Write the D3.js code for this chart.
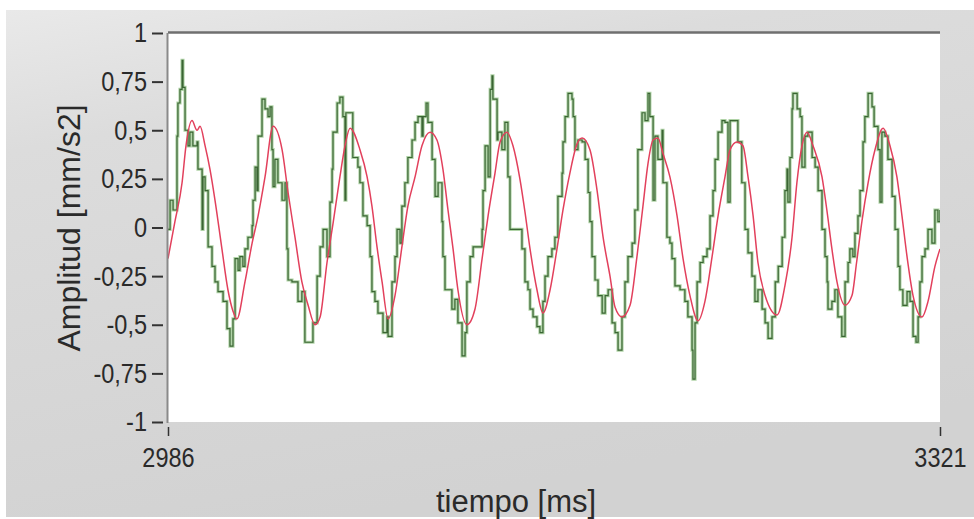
<!DOCTYPE html>
<html>
<head>
<meta charset="utf-8">
<script src="https://cdn.jsdelivr.net/npm/d3@7"></script>
<style>
  html, body { margin: 0; padding: 0; background: #ffffff; }
  svg { display: block; }
  text { font-family: "Liberation Sans", Arial, sans-serif; fill: #2a2a2a; }
</style>
</head>
<body>
<div id="chart"></div>
<script>
// ---- data ----
const xTickValues = [2986, 3321];
const yTickValues = [-1, -0.75, -0.5, -0.25, 0, 0.25, 0.5, 0.75, 1];
const yTickLabels = ["-1", "-0,75", "-0,5", "-0,25", "0", "0,25", "0,5", "0,75", "1"];
const xTitle = "tiempo [ms]";
const yTitle = "Amplitud [mm/s2]";

// red (filtered) signal: time [ms]
const redTime = [
  2986.0, 2989.0, 2992.1, 2993.8, 2996.4, 2998.6, 2999.9, 3002.1, 3004.2, 3006.4,
  3009.4, 3012.0, 3014.2, 3015.9, 3019.4, 3022.5, 3025.1, 3028.1, 3031.6, 3035.5,
  3038.1, 3041.1, 3044.1, 3046.8, 3049.8, 3052.0, 3055.0, 3057.6, 3060.6, 3062.8,
  3065.0, 3069.3, 3072.4, 3074.5, 3076.7, 3078.9, 3081.5, 3084.5, 3087.5, 3090.1,
  3093.2, 3096.2, 3099.7, 3102.7, 3105.3, 3107.5, 3109.7, 3111.8, 3115.7, 3119.2,
  3122.3, 3124.9, 3127.9, 3130.1, 3133.1, 3135.7, 3138.7, 3140.9, 3143.1, 3146.1,
  3148.7, 3151.8, 3154.8, 3157.4, 3160.4, 3163.5, 3165.7, 3169.1, 3172.2, 3174.8,
  3177.8, 3180.0, 3183.0, 3186.5, 3189.5, 3192.1, 3194.3, 3196.5, 3198.6, 3200.8,
  3203.8, 3206.9, 3209.5, 3212.5, 3216.0, 3219.0, 3222.1, 3224.7, 3227.7, 3229.9,
  3232.9, 3235.5, 3237.7, 3239.9, 3242.0, 3245.1, 3250.3, 3253.7, 3256.8, 3258.9,
  3261.1, 3263.3, 3265.9, 3269.8, 3271.9, 3274.1, 3276.3, 3279.8, 3282.8, 3284.8,
  3287.1, 3289.8, 3292.8, 3296.3, 3299.3, 3302.3, 3304.5, 3306.7, 3309.3, 3313.2,
  3315.8, 3318.8, 3321.0
];
// red signal amplitude [mm/s2]
const redAmp = [
  -0.16, 0.03, 0.23, 0.42, 0.55, 0.50, 0.52, 0.42, 0.30, 0.14,
  -0.11, -0.32, -0.43, -0.47, -0.28, -0.08, 0.06, 0.26, 0.52, 0.40,
  0.18, -0.05, -0.28, -0.40, -0.50, -0.46, -0.18, 0.02, 0.26, 0.42,
  0.51, 0.40, 0.26, 0.11, -0.10, -0.28, -0.47, -0.35, -0.10, 0.11,
  0.26, 0.42, 0.49, 0.45, 0.30, 0.09, -0.11, -0.32, -0.50, -0.42,
  -0.16, 0.06, 0.28, 0.44, 0.49, 0.42, 0.25, 0.08, -0.11, -0.32,
  -0.44, -0.32, -0.11, 0.09, 0.28, 0.43, 0.46, 0.40, 0.19, -0.05,
  -0.25, -0.41, -0.46, -0.40, -0.15, 0.11, 0.33, 0.45, 0.46, 0.38,
  0.26, 0.06, -0.16, -0.35, -0.48, -0.38, -0.15, 0.06, 0.26, 0.40,
  0.44, 0.42, 0.26, 0.06, -0.18, -0.35, -0.45, -0.30, -0.05, 0.23,
  0.42, 0.49, 0.42, 0.26, 0.09, -0.11, -0.28, -0.40, -0.35, -0.18,
  0.03, 0.23, 0.40, 0.51, 0.42, 0.26, 0.06, -0.15, -0.35, -0.46,
  -0.38, -0.20, -0.11
];

// green (raw) signal: time [ms]
const greenTime = [
  2986.0, 2986.9, 2988.2, 2989.9, 2990.3, 2991.2, 2992.1, 2992.5, 2993.4, 2994.7,
  2995.5, 2996.8, 2998.6, 2999.0, 3000.8, 3001.2, 3002.1, 3003.4, 3005.1, 3006.4,
  3007.7, 3009.9, 3011.6, 3012.9, 3014.2, 3015.1, 3016.4, 3017.2, 3018.5, 3019.4,
  3020.7, 3022.5, 3022.9, 3023.8, 3024.6, 3025.1, 3026.8, 3028.1, 3029.4, 3030.3,
  3031.1, 3031.6, 3032.4, 3033.7, 3035.5, 3036.8, 3037.6, 3038.1, 3039.8, 3042.4,
  3044.1, 3045.4, 3048.9, 3050.7, 3052.0, 3053.3, 3055.0, 3056.3, 3057.2, 3057.6,
  3059.4, 3060.6, 3061.9, 3062.8, 3063.2, 3066.2, 3068.4, 3069.3, 3070.6, 3072.4,
  3073.7, 3074.5, 3075.8, 3077.1, 3079.3, 3081.0, 3081.5, 3083.2, 3084.5, 3085.4,
  3086.7, 3087.5, 3088.8, 3090.1, 3091.9, 3093.2, 3094.5, 3096.2, 3096.7, 3098.0,
  3098.8, 3100.6, 3101.9, 3103.2, 3104.9, 3105.3, 3106.2, 3109.2, 3110.5, 3111.8,
  3113.6, 3114.9, 3115.7, 3117.1, 3118.4, 3122.3, 3122.7, 3123.6, 3124.9, 3125.8,
  3126.6, 3127.0, 3128.8, 3129.2, 3130.9, 3132.2, 3133.5, 3134.4, 3139.6, 3140.9,
  3142.2, 3143.1, 3144.4, 3146.1, 3147.4, 3148.7, 3149.6, 3150.9, 3152.6, 3153.9,
  3155.2, 3157.0, 3157.4, 3158.3, 3159.6, 3161.3, 3161.8, 3162.6, 3163.9, 3165.7,
  3167.0, 3168.3, 3169.1, 3170.0, 3171.3, 3172.6, 3174.4, 3175.7, 3177.0, 3178.7,
  3180.0, 3181.3, 3183.0, 3184.3, 3185.6, 3187.4, 3188.6, 3189.9, 3191.7, 3193.0,
  3194.3, 3195.1, 3196.5, 3197.3, 3198.6, 3200.4, 3200.8, 3202.5, 3203.8, 3204.7,
  3206.0, 3208.2, 3210.3, 3211.6, 3213.4, 3213.8, 3214.7, 3215.6, 3216.9, 3218.2,
  3219.9, 3221.2, 3222.5, 3223.4, 3224.7, 3226.4, 3227.7, 3229.0, 3229.9, 3233.3,
  3235.0, 3236.4, 3237.7, 3239.4, 3240.7, 3242.0, 3243.8, 3245.1, 3246.4, 3248.1,
  3249.5, 3250.8, 3252.5, 3253.7, 3254.6, 3255.0, 3255.9, 3256.8, 3257.2, 3259.0,
  3260.3, 3261.1, 3262.4, 3263.7, 3265.5, 3266.8, 3268.1, 3269.8, 3271.1, 3272.0,
  3272.4, 3274.1, 3275.4, 3276.7, 3278.4, 3279.8, 3281.1, 3281.9, 3283.2, 3284.1,
  3285.4, 3286.3, 3287.6, 3288.4, 3289.8, 3291.5, 3292.4, 3294.1, 3295.0, 3295.8,
  3297.1, 3298.4, 3300.2, 3301.5, 3302.8, 3303.6, 3304.9, 3306.7, 3308.0, 3309.3,
  3310.6, 3311.5, 3312.3, 3313.2, 3314.5, 3315.8, 3317.5, 3318.8, 3320.1, 3321.0
];
// green signal amplitude [mm/s2]
const greenAmp = [
  -0.01, 0.14, 0.09, 0.47, 0.64, 0.71, 0.86, 0.72, 0.50, 0.42,
  0.49, 0.42, 0.44, 0.30, -0.01, 0.26, 0.19, -0.10, -0.20, -0.28,
  -0.33, -0.38, -0.52, -0.61, -0.47, -0.16, -0.22, -0.15, -0.20, -0.11,
  -0.05, 0.01, 0.14, 0.31, 0.19, 0.47, 0.66, 0.61, 0.57, 0.62,
  0.40, 0.21, 0.35, 0.23, 0.14, 0.23, -0.11, -0.27, -0.28, -0.38,
  -0.33, -0.59, -0.49, -0.25, -0.10, -0.01, -0.15, 0.13, 0.30, 0.49,
  0.64, 0.67, 0.57, 0.14, 0.59, 0.36, 0.31, 0.23, 0.06, 0.01,
  -0.15, -0.33, -0.38, -0.44, -0.54, -0.46, -0.56, -0.28, -0.15, -0.01,
  -0.08, 0.11, 0.23, 0.36, 0.45, 0.54, 0.57, 0.47, 0.57, 0.64,
  0.54, 0.35, 0.16, 0.23, 0.03, -0.15, -0.32, -0.42, -0.37, -0.49,
  -0.66, -0.54, -0.28, -0.15, -0.10, -0.01, 0.19, 0.42, 0.26, 0.71,
  0.78, 0.66, 0.45, 0.49, 0.40, 0.54, 0.26, -0.01, -0.11, -0.28,
  -0.32, -0.42, -0.46, -0.51, -0.54, -0.38, -0.25, -0.15, -0.11, -0.05,
  0.16, 0.28, 0.44, 0.57, 0.69, 0.66, 0.57, 0.40, 0.45, 0.44,
  0.35, 0.18, 0.03, -0.15, -0.27, -0.35, -0.44, -0.35, -0.32, -0.49,
  -0.54, -0.63, -0.46, -0.28, -0.15, -0.08, 0.09, 0.40, 0.59, 0.55,
  0.69, 0.57, 0.14, 0.47, 0.35, 0.50, 0.23, -0.05, -0.08, -0.16,
  -0.30, -0.32, -0.38, -0.46, -0.63, -0.78, -0.49, -0.28, -0.18, -0.15,
  -0.11, 0.06, 0.19, 0.35, 0.49, 0.55, 0.54, 0.13, 0.55, 0.44,
  0.23, -0.01, -0.13, -0.25, -0.38, -0.32, -0.42, -0.49, -0.57, -0.46,
  -0.28, -0.20, -0.05, 0.19, 0.30, 0.13, 0.36, 0.61, 0.69, 0.61,
  0.57, 0.31, 0.47, 0.49, 0.36, 0.31, 0.19, -0.01, -0.15, -0.28,
  -0.42, -0.38, -0.32, -0.46, -0.56, -0.28, -0.18, -0.11, -0.15, -0.03,
  0.06, 0.19, 0.44, 0.57, 0.69, 0.62, 0.52, 0.40, 0.13, 0.49,
  0.47, 0.35, 0.16, -0.01, -0.20, -0.32, -0.40, -0.33, -0.38, -0.56,
  -0.59, -0.46, -0.28, -0.15, -0.11, -0.01, -0.08, 0.09, 0.03, 0.09
];

// ---- drawing ----
const W = 974, H = 519;
const plot = { left: 168, right: 940, top: 33, bottom: 422 };
const tickFontSize = 28;
const tickSqueeze = 0.84;   // horizontal compression of the tick label font

const svg = d3.select("#chart").append("svg")
  .attr("width", W).attr("height", H);

const defs = svg.append("defs");
const grad = defs.append("linearGradient").attr("id", "panelGrad")
  .attr("x1", "0").attr("y1", "0").attr("x2", "0.35").attr("y2", "1");
grad.append("stop").attr("offset", "0").attr("stop-color", "#e9e9e9");
grad.append("stop").attr("offset", "0.25").attr("stop-color", "#dcdcdc");
grad.append("stop").attr("offset", "1").attr("stop-color", "#d2d2d2");
defs.append("clipPath").attr("id", "plotClip").append("rect")
  .attr("x", plot.left).attr("y", plot.top)
  .attr("width", plot.right - plot.left).attr("height", plot.bottom - plot.top);

// panel background
svg.append("rect").attr("x", 0).attr("y", 0).attr("width", W).attr("height", H).attr("fill", "#ffffff");
svg.append("rect").attr("x", 6).attr("y", 10).attr("width", W - 6).attr("height", H - 12)
  .attr("fill", "url(#panelGrad)");

// plot area
svg.append("rect").attr("x", plot.left).attr("y", plot.top)
  .attr("width", plot.right - plot.left).attr("height", plot.bottom - plot.top)
  .attr("fill", "#ffffff");

const x = d3.scaleLinear().domain([2986, 3321]).range([plot.left, plot.right]);
const y = d3.scaleLinear().domain([-1, 1]).range([plot.bottom, plot.top]);

const greenData = greenTime.map((t, i) => [t, greenAmp[i]]);
const redData = redTime.map((t, i) => [t, redAmp[i]]);

const g = svg.append("g").attr("clip-path", "url(#plotClip)");

const greenLine = d3.line().x(d => x(d[0])).y(d => y(d[1])).curve(d3.curveStepAfter);
g.append("path").datum(greenData).attr("d", greenLine)
  .attr("fill", "none").attr("stroke", "#9cc891").attr("stroke-width", 3.2).attr("stroke-opacity", 0.8);
g.append("path").datum(greenData).attr("d", greenLine)
  .attr("fill", "none").attr("stroke", "#3a6533").attr("stroke-width", 1.2);

const redLine = d3.line().x(d => x(d[0])).y(d => y(d[1])).curve(d3.curveMonotoneX);
g.append("path").datum(redData).attr("d", redLine)
  .attr("fill", "none").attr("stroke", "#e2405c").attr("stroke-width", 1.5);

// frame top line
svg.append("line").attr("x1", plot.left).attr("x2", plot.right)
  .attr("y1", plot.top - 0.5).attr("y2", plot.top - 0.5)
  .attr("stroke", "#6f6f6f").attr("stroke-width", 2.5);

// y axis
const yAxis = d3.axisLeft(y).tickValues(yTickValues)
  .tickFormat((d, i) => yTickLabels[i]).tickSize(11).tickPadding(5);
const yg = svg.append("g").attr("transform", `translate(${plot.left - 5},0)`).call(yAxis);
yg.select(".domain").remove();
yg.selectAll(".tick line").attr("stroke", "#333").attr("stroke-width", 2);
yg.selectAll(".tick text")
  .attr("font-size", tickFontSize).attr("fill", "#2a2a2a")
  .attr("x", -16 / tickSqueeze)
  .attr("transform", `scale(${tickSqueeze},1)`);
svg.append("line").attr("x1", plot.left - 0.5).attr("x2", plot.left - 0.5)
  .attr("y1", plot.top).attr("y2", plot.bottom + 1)
  .attr("stroke", "#8a8a8a").attr("stroke-width", 2);

// x axis
const xAxis = d3.axisBottom(x).tickValues(xTickValues).tickFormat(d3.format("d"))
  .tickSize(9).tickPadding(11);
const xg = svg.append("g").attr("transform", `translate(0,${plot.bottom + 5})`).call(xAxis);
xg.select(".domain").remove();
xg.selectAll(".tick line").attr("stroke", "#333").attr("stroke-width", 1.5);
xg.selectAll(".tick text")
  .attr("font-size", tickFontSize).attr("fill", "#2a2a2a")
  .attr("transform", `scale(${tickSqueeze},1)`);

// axis titles
svg.append("text").attr("x", 516).attr("y", 512).attr("text-anchor", "middle")
  .attr("font-size", 31).text(xTitle);
svg.append("text").attr("transform", "translate(80,228) rotate(-90)")
  .attr("text-anchor", "middle").attr("font-size", 32).text(yTitle);
</script>
</body>
</html>
